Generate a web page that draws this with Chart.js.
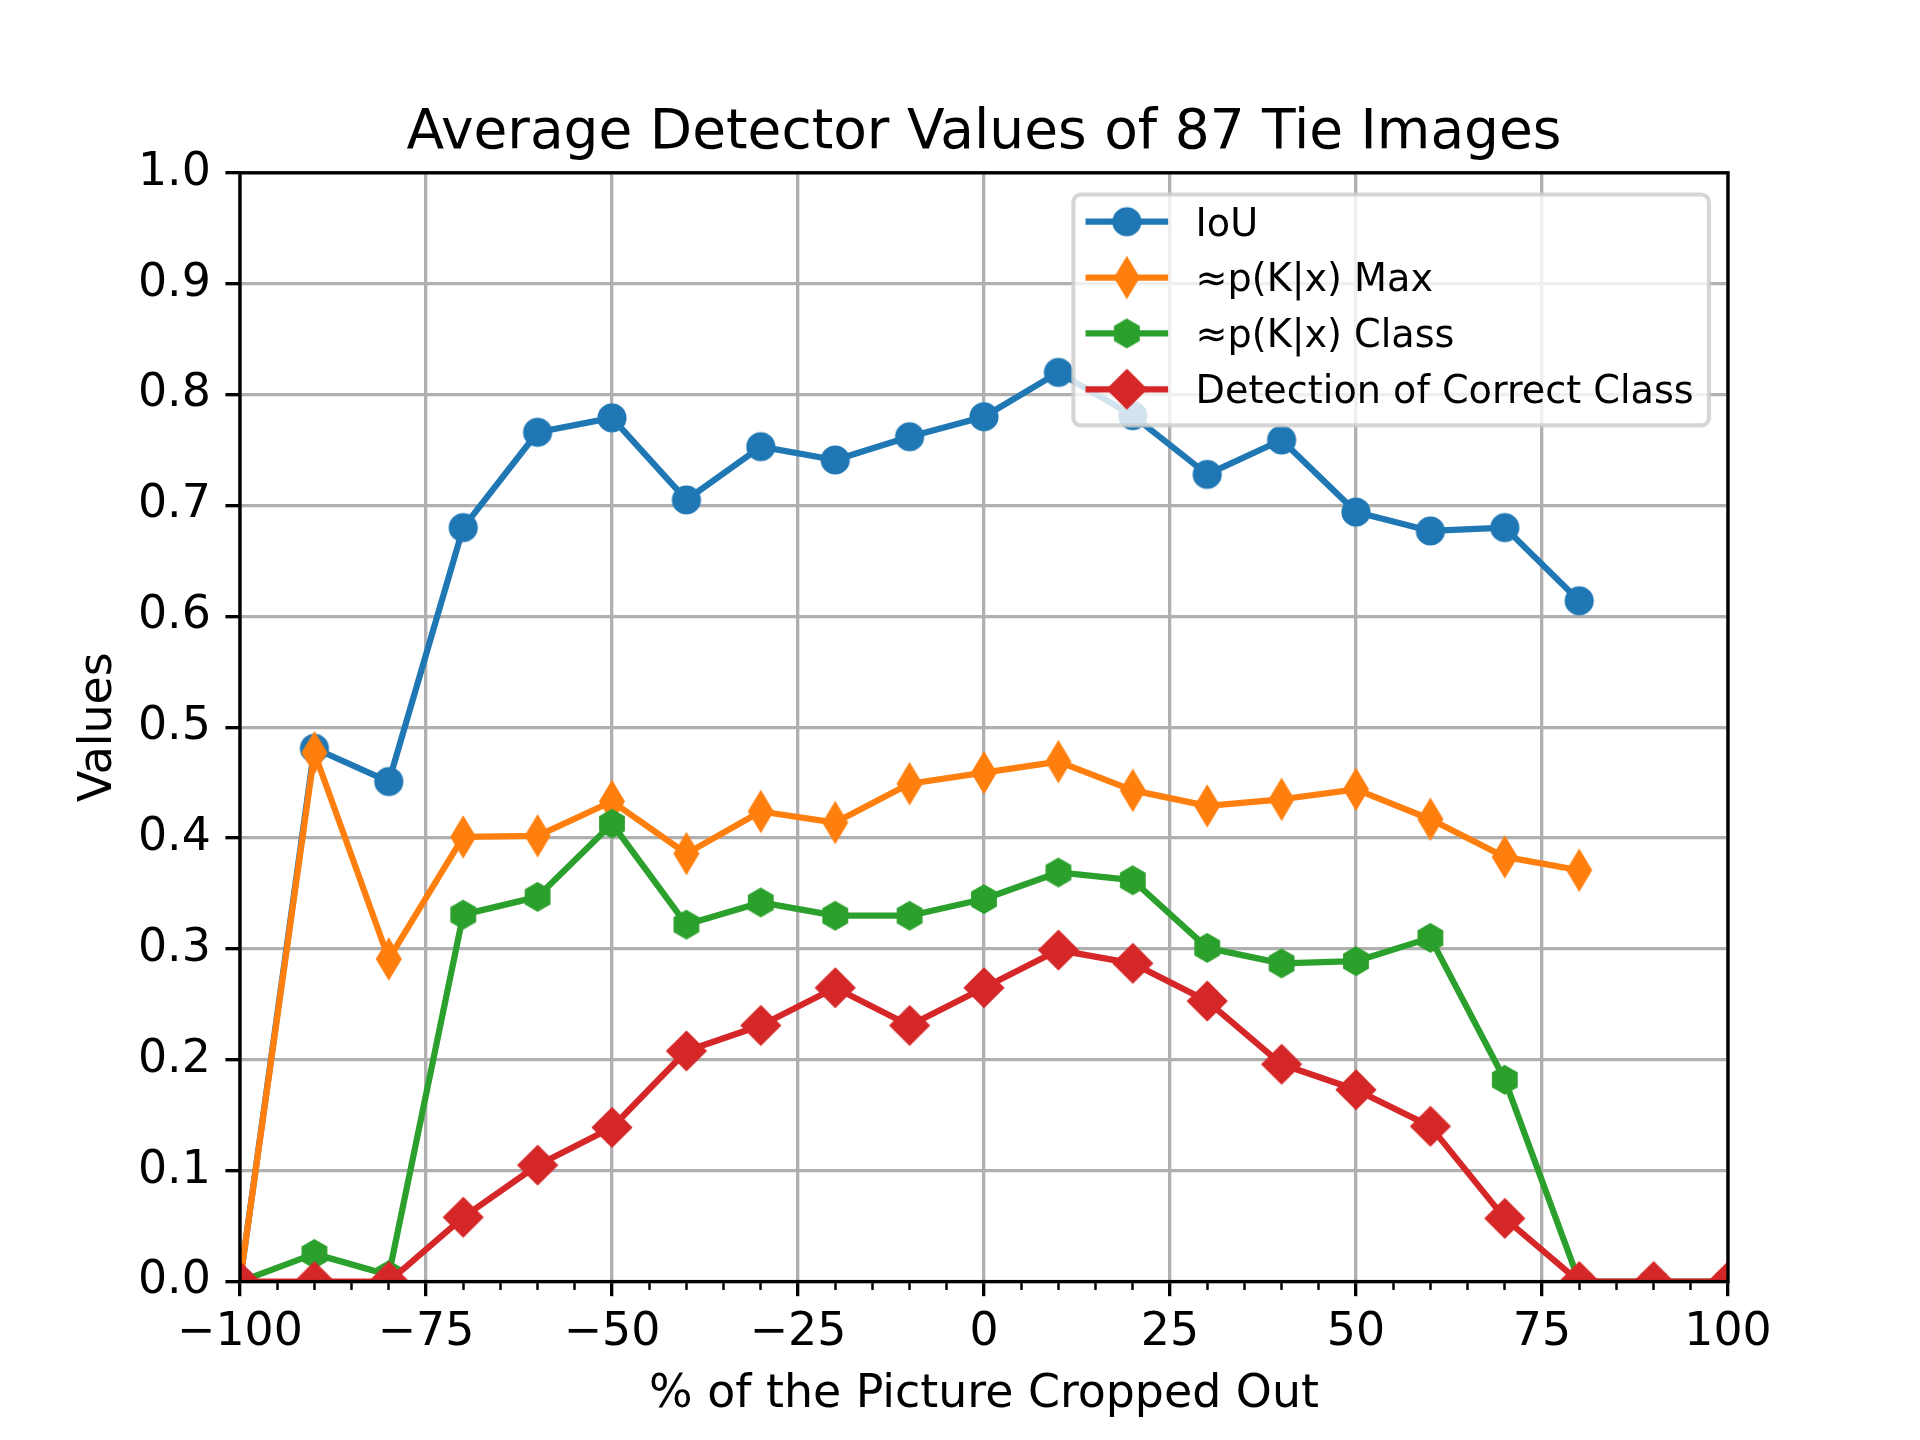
<!DOCTYPE html>
<html>
<head>
<meta charset="utf-8">
<script src="https://cdn.jsdelivr.net/npm/chart.js@4.4.0/dist/chart.umd.min.js"></script>
<style>
  html, body { margin: 0; padding: 0; background: #fff; }
  canvas { display: block; }
</style>
</head>
<body>
<canvas id="myChart" width="1920" height="1440"></canvas>
<script>
// data
const cropped = [-100, -90, -80, -70, -60, -50, -40, -30, -20, -10, 0, 10, 20, 30, 40, 50, 60, 70, 80, 90, 100]
const iou = [0, 0.481, 0.451, 0.680, 0.766, 0.779, 0.705, 0.753, 0.741, 0.762, 0.780, 0.820, 0.781, 0.728, 0.759, 0.694, 0.677, 0.680, 0.614, null, null]
const pMax = [0, 0.477, 0.291, 0.401, 0.402, 0.433, 0.386, 0.424, 0.414, 0.449, 0.459, 0.469, 0.443, 0.429, 0.435, 0.444, 0.417, 0.383, 0.371, null, null]
const pClass = [0, 0.025, 0.006, 0.331, 0.347, 0.413, 0.322, 0.342, 0.330, 0.330, 0.345, 0.369, 0.362, 0.301, 0.287, 0.289, 0.310, 0.182, 0, 0, 0]
const correctClass = [0, 0, 0, 0.058, 0.105, 0.139, 0.208, 0.231, 0.265, 0.231, 0.265, 0.299, 0.287, 0.253, 0.196, 0.173, 0.140, 0.057, 0, 0, 0]

const seriesNames = ['IoU', '\u2248p(K|x) Max', '\u2248p(K|x) Class', 'Detection of Correct Class']
const xTicks = [-100, -75, -50, -25, 0, 25, 50, 75, 100]
const xMinorTicks = [-95, -90, -85, -80, -70, -65, -60, -55, -45, -40, -35, -30, -20, -15, -10, -5,
  5, 10, 15, 20, 30, 35, 40, 45, 55, 60, 65, 70, 80, 85, 90, 95]
const yTicks = [0, 0.1, 0.2, 0.3, 0.4, 0.5, 0.6, 0.7, 0.8, 0.9, 1.0]

const titulo = 'Average Detector Values of 87 Tie Images'
const xLabel = '% of the Picture Cropped Out'
const yLabel = 'Values'

const FONT = 'DejaVu Sans'
const PT = 300 / 72   // pixels per point

// matplotlib-like markers drawn on small canvases
function makeMarker(kind, color) {
  const c = document.createElement('canvas')
  c.width = 50
  c.height = 50
  const g = c.getContext('2d')
  g.translate(25, 25)
  g.fillStyle = color
  g.strokeStyle = color
  g.lineWidth = 1 * PT
  g.lineJoin = 'miter'
  const s = 6 * PT
  g.beginPath()
  if (kind === 'o') {
    g.arc(0, 0, s / 2, 0, Math.PI * 2)
  } else if (kind === 'D' || kind === 'd') {
    const h = s * Math.SQRT2 / 2
    const w = kind === 'd' ? h * 0.6 : h
    g.moveTo(0, -h); g.lineTo(w, 0); g.lineTo(0, h); g.lineTo(-w, 0)
  } else if (kind === 'h') {
    const r = s / 2
    for (let k = 0; k < 6; k++) {
      const a = (-90 + 60 * k) * Math.PI / 180
      if (k === 0) g.moveTo(r * Math.cos(a), r * Math.sin(a))
      else g.lineTo(r * Math.cos(a), r * Math.sin(a))
    }
  }
  g.closePath()
  g.fill()
  g.stroke()
  return c
}

const cores = ['#1f77b4', '#ff7f0e', '#2ca02c', '#d62728']
const marcadores = ['o', 'd', 'h', 'D'].map((k, i) => makeMarker(k, cores[i]))
const valores = [iou, pMax, pClass, correctClass]

function menos(v) {
  return v < 0 ? '\u2212' + Math.abs(v) : String(v)
}

// spines on all four sides
const spines = {
  id: 'spines',
  afterDatasetsDraw(chart) {
    const { ctx, chartArea: a } = chart
    ctx.save()
    ctx.strokeStyle = '#000'
    ctx.lineWidth = 0.8 * PT
    ctx.lineJoin = 'miter'
    ctx.strokeRect(a.left, a.top, a.right - a.left, a.bottom - a.top)
    ctx.restore()
  }
}

// legend inside the axes, upper right
const legendaInterna = {
  id: 'legendaInterna',
  afterDraw(chart) {
    const { ctx, chartArea: a } = chart
    const F = 11 * 0.833 * PT
    ctx.save()
    ctx.font = F + 'px "' + FONT + '"'
    const textW = Math.max(...seriesNames.map(n => ctx.measureText(n).width))
    const right = a.right - 19
    const left = right - (textW + 3.6 * F)
    const top = a.top + 21.7
    const step = 55.85
    const row0 = top + 27.2
    const bottom = row0 + step * 3 + 36.2

    ctx.beginPath()
    ctx.roundRect(left, top, right - left, bottom - top, 0.2 * F)
    ctx.fillStyle = 'rgba(255,255,255,0.8)'
    ctx.fill()
    ctx.lineWidth = 1 * PT
    ctx.strokeStyle = 'rgba(204,204,204,0.8)'
    ctx.stroke()

    const x0 = left + 0.4 * F
    const x1 = x0 + 2 * F
    const tx = x1 + 0.8 * F
    seriesNames.forEach((n, i) => {
      const y = row0 + step * i
      ctx.beginPath()
      ctx.moveTo(x0, y)
      ctx.lineTo(x1, y)
      ctx.lineWidth = 1.5 * PT
      ctx.lineCap = 'square'
      ctx.strokeStyle = cores[i]
      ctx.stroke()
      const m = marcadores[i]
      ctx.drawImage(m, (x0 + x1) / 2 - m.width / 2, y - m.height / 2)
      ctx.fillStyle = '#000'
      ctx.textBaseline = 'alphabetic'
      ctx.textAlign = 'left'
      ctx.fillText(n, tx, y + 0.729 * F / 2)
    })
    ctx.restore()
  }
}

function gerarGrafico() {
  Chart.defaults.font.family = FONT
  Chart.defaults.color = '#000'

  const ctx = document.getElementById('myChart')

  const datasets = seriesNames.map((nome, i) => ({
    label: nome,
    data: cropped.map((x, j) => ({ x: x, y: valores[i][j] })),
    borderColor: cores[i],
    backgroundColor: cores[i],
    borderWidth: 1.5 * PT,
    borderJoinStyle: 'round',
    borderCapStyle: 'square',
    pointStyle: marcadores[i],
    pointRadius: 14,
    pointHoverRadius: 14,
    tension: 0,
    spanGaps: false,
    clip: 0,
    order: 4 - i
  }))

  const gradeCor = '#b0b0b0'
  const tickFont = { family: FONT, size: 11 * PT }
  const labelFont = { family: FONT, size: 11 * PT, lineHeight: 1.2 }

  new Chart(ctx, {
    type: 'line',
    data: { datasets },
    options: {
      responsive: false,
      animation: false,
      devicePixelRatio: 1,
      events: [],
      layout: { padding: { left: 0, right: 192, top: 0, bottom: 0 } },
      plugins: {
        legend: { display: false },
        tooltip: { enabled: false },
        title: {
          display: true,
          text: titulo,
          fullSize: false,
          color: '#000',
          font: { family: FONT, size: 13.2 * PT, weight: 'normal', lineHeight: 1.2 },
          padding: { top: 100.3, bottom: 6.5 }
        }
      },
      scales: {
        x: {
          type: 'linear',
          position: 'bottom',
          weight: 1,
          min: -100,
          max: 100,
          afterBuildTicks: s => { s.ticks = xTicks.map(v => ({ value: v })) },
          afterFit: s => { s.height = 158.4 },
          border: { display: false },
          grid: {
            color: gradeCor,
            lineWidth: 0.8 * PT,
            drawTicks: true,
            tickColor: '#000',
            tickWidth: 0.8 * PT,
            tickLength: 3.5 * PT
          },
          ticks: {
            autoSkip: false,
            maxRotation: 0,
            padding: 9.5,
            color: '#000',
            font: tickFont,
            callback: v => menos(v)
          },
          title: {
            display: true,
            text: xLabel,
            color: '#000',
            font: labelFont,
            padding: { top: 0, bottom: 17 }
          }
        },
        xMinor: {
          type: 'linear',
          position: 'bottom',
          weight: 0,
          min: -100,
          max: 100,
          afterBuildTicks: s => { s.ticks = xMinorTicks.map(v => ({ value: v })) },
          afterFit: s => { s.height = 0 },
          border: { display: false },
          grid: {
            drawOnChartArea: false,
            drawTicks: true,
            tickColor: '#000',
            tickWidth: 0.6 * PT,
            tickLength: 2 * PT
          },
          ticks: { display: false }
        },
        y: {
          type: 'linear',
          position: 'left',
          min: 0,
          max: 1,
          afterBuildTicks: s => { s.ticks = yTicks.map(v => ({ value: v })) },
          afterFit: s => { s.width = 240 },
          border: { display: false },
          grid: {
            color: gradeCor,
            lineWidth: 0.8 * PT,
            drawTicks: true,
            tickColor: '#000',
            tickWidth: 0.8 * PT,
            tickLength: 3.5 * PT
          },
          ticks: {
            padding: 3.5 * PT,
            color: '#000',
            font: tickFont,
            callback: v => v.toFixed(1)
          },
          title: {
            display: true,
            text: yLabel,
            color: '#000',
            font: labelFont,
            padding: { top: 72, bottom: 0 }
          }
        }
      }
    },
    plugins: [spines, legendaInterna]
  })
}

gerarGrafico()
</script>
</body>
</html>
